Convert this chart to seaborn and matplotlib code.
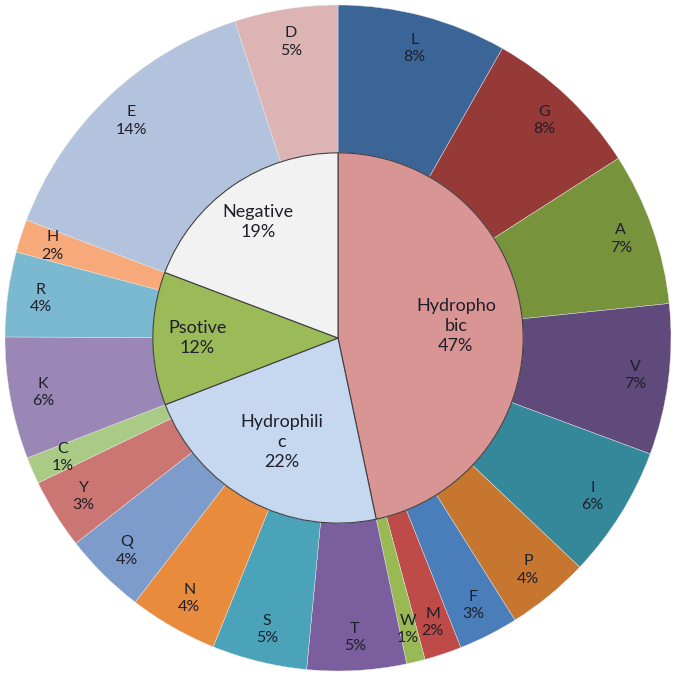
import matplotlib
matplotlib.use("Agg")
import matplotlib.pyplot as plt
import seaborn as sns
import numpy as np
import pandas as pd

residues = ["L", "G", "A", "V", "I", "P", "F", "M", "W",
            "T", "S", "N", "Q", "Y", "C",
            "K", "R", "H",
            "E", "D"]
shares = [8.2, 7.7, 7.4, 7.3, 6.4, 4.0, 2.9, 1.8, 0.9,
          4.8, 4.6, 4.3, 4.0, 3.4, 1.3,
          5.9, 4.1, 1.6,
          14.2, 5.0]
groups = ["Hydrophobic"] * 9 + ["Hydrophilic"] * 6 + ["Psotive"] * 3 + ["Negative"] * 2

group_order = ["Hydrophobic", "Hydrophilic", "Psotive", "Negative"]
group_text = ["Hydropho\nbic", "Hydrophili\nc", "Psotive", "Negative"]

outer_colors = ["#3B6497", "#963A38", "#77933C", "#604A7B", "#35889A", "#C6762F",
                "#4A7EBB", "#BE4B48", "#98B954",
                "#7B5E9E", "#4BA3BA", "#E88B3D", "#7D9BCB", "#CC7674", "#AACB85",
                "#9A87B5", "#7AB9D0", "#F7A979",
                "#B4C3DD", "#DDB4B4"]
inner_colors = ["#D99594", "#C5D8F0", "#9BBB59", "#F2F2F2"]

sns.set_theme(style="white")
plt.rcParams['font.family'] = ['Lato', 'DejaVu Sans']

df = pd.DataFrame({"residue": residues, "share": shares, "group": groups})
inner = df.groupby("group", sort=False)["share"].sum().reindex(group_order)
total = df["share"].sum()

fig = plt.figure(figsize=(6.76, 6.76), dpi=100)
ax = fig.add_axes([0, 0, 1, 1])

r_in = 0.556
txt_col = "#1f1f2a"

# outer ring
wedges, _ = ax.pie(df["share"], radius=1.0, startangle=90, counterclock=False,
                   colors=outer_colors,
                   wedgeprops=dict(width=1 - r_in, edgecolor="#e8e8e8", linewidth=0.3))
for w, lab, val in zip(wedges, df["residue"], df["share"]):
    ang = np.deg2rad((w.theta1 + w.theta2) / 2)
    r = 0.9
    ax.text(r * np.cos(ang), r * np.sin(ang), f"{lab}\n{val / total * 100:.0f}%",
            ha="center", va="center", fontsize=11.5, color=txt_col, linespacing=1.3)

# inner pie
iw, _ = ax.pie(inner.values, radius=r_in, startangle=90, counterclock=False,
               colors=inner_colors,
               wedgeprops=dict(edgecolor="#404040", linewidth=0.8))
for w, lab, val in zip(iw, group_text, inner.values):
    ang = np.deg2rad((w.theta1 + w.theta2) / 2)
    r = r_in * (0.64 if "\n" in lab else 0.76)
    ax.text(r * np.cos(ang), r * np.sin(ang), f"{lab}\n{val / total * 100:.0f}%",
            ha="center", va="center", fontsize=13, color=txt_col, linespacing=1.3)

ax.set_xlim(-1.015, 1.015)
ax.set_ylim(-1.015, 1.015)
ax.set_aspect("equal")
ax.axis("off")

fig.savefig("out.png", dpi=100, facecolor="white")
plt.close(fig)
